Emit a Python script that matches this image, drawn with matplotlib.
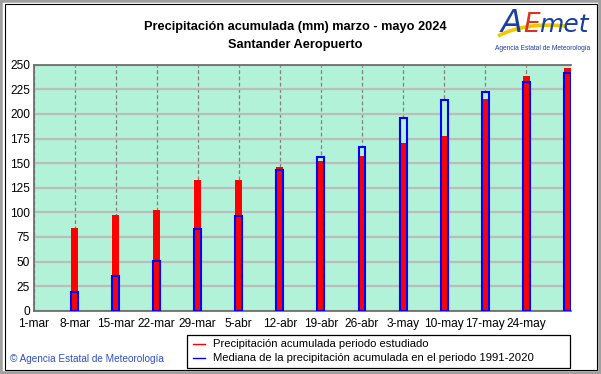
import matplotlib
matplotlib.use("Agg")
import matplotlib.pyplot as plt
from matplotlib.patches import Rectangle, PathPatch
from matplotlib.path import Path
import numpy as np

# semanas (1-mar ... 31-may), la ultima sin etiqueta
etiquetas = ["1-mar", "8-mar", "15-mar", "22-mar", "29-mar", "5-abr", "12-abr",
             "19-abr", "26-abr", "3-may", "10-may", "17-may", "24-may"]
precip_2024 = [0, 84, 97, 102, 133, 133, 146, 152, 157, 170, 178, 215, 239, 247]
mediana = [0, 19, 35, 51, 83, 96, 143, 156, 166, 196, 214, 222, 232, 242]

W, H = 601, 374
fondo = "#b2f2d8"

plt.rcParams['font.family'] = ['Liberation Sans', 'DejaVu Sans']

fig = plt.figure(figsize=(W / 100, H / 100), dpi=100)
fig.patch.set_facecolor("white")

def fx(px):
    return px / W

def fy(py):
    return 1 - py / H

ax = fig.add_axes([fx(33.5), fy(310.7), fx(571) - fx(33.5), fy(64.7) - fy(310.7)])
ax.set_facecolor(fondo)

x = np.arange(len(precip_2024))
ancho = 0.17

# rejilla
ax.set_ylim(0, 250)
ax.set_xlim(0, 13.09)
ax.set_yticks(np.arange(0, 251, 25))
ax.set_xticks(np.arange(len(etiquetas)))
ax.set_xticklabels(etiquetas)
ax.yaxis.grid(True, color="#bcbcbc", linewidth=1.6, linestyle="-", zorder=0)
ax.xaxis.grid(True, color="#808080", linewidth=0.9, linestyle=(0, (3, 2)), zorder=0)
ax.set_axisbelow(True)

# barras
ax.bar(x[1:], mediana[1:], width=ancho, color=fondo, edgecolor="none", zorder=2)
ax.bar(x[1:], precip_2024[1:], width=ancho, color="#ff0000", edgecolor="none", zorder=3)
ax.bar(x[1:], mediana[1:], width=ancho, facecolor="none", edgecolor="#0000ff",
       linewidth=1.5, zorder=4)

ax.tick_params(axis="both", length=0, labelsize=8.6, colors="black")
ax.tick_params(axis="y", pad=2.5)
ax.tick_params(axis="x", pad=5)
for s in ax.spines.values():
    s.set_color("#6e6e6e")
    s.set_linewidth(1.3)
ax.spines["right"].set_visible(False)

# titulo
fig.text(fx(295), fy(27), "Precipitación acumulada (mm) marzo - mayo 2024",
         ha="center", va="center", fontsize=9.2, fontweight="bold")
fig.text(fx(295), fy(45), "Santander Aeropuerto",
         ha="center", va="center", fontsize=9.2, fontweight="bold")

# logo
verde = fig.transFigure
swoosh = Path([(fx(498), fy(36)), (fx(525), fy(22)), (fx(566), fy(26))],
              [Path.MOVETO, Path.CURVE3, Path.CURVE3])
fig.patches.append(PathPatch(swoosh, transform=verde, facecolor="none",
                             edgecolor="#f0c800", linewidth=2.6))
fig.text(fx(501), fy(24), "A", ha="left", va="center", fontsize=23,
         style="italic", color="#1a3fa0", family="DejaVu Sans")
fig.text(fx(523), fy(25), "E", ha="left", va="center", fontsize=19,
         style="italic", color="#e03020", family="DejaVu Sans")
fig.text(fx(539), fy(25), "met", ha="left", va="center", fontsize=18,
         style="italic", color="#1a3fa0", family="DejaVu Sans")
fig.text(fx(543), fy(49), "Agencia Estatal de Meteorología", ha="center",
         va="center", fontsize=4.8, color="#1a3fa0")

# leyenda
leg = Rectangle((fx(187), fy(368)), fx(570) - fx(187), fy(335) - fy(368),
                transform=verde, facecolor="white", edgecolor="black", linewidth=0.9)
fig.patches.append(leg)
fig.lines.append(plt.Line2D([fx(193), fx(205)], [fy(344), fy(344)],
                            transform=verde, color="#ff0000", linewidth=1))
fig.lines.append(plt.Line2D([fx(193), fx(205)], [fy(358), fy(358)],
                            transform=verde, color="#0000ff", linewidth=1))
fig.text(fx(213), fy(344), "Precipitación acumulada periodo estudiado",
         ha="left", va="center", fontsize=8.1)
fig.text(fx(213), fy(358), "Mediana de la precipitación acumulada en el periodo 1991-2020",
         ha="left", va="center", fontsize=8.1)

fig.text(fx(10), fy(359), "© Agencia Estatal de Meteorología", ha="left",
         va="center", fontsize=7.2, color="#3050c0")

# marco
fig.patches.append(Rectangle((0, 0), 1, 1, transform=verde, facecolor="none",
                             edgecolor="#a0a0a0", linewidth=4))
fig.patches.append(Rectangle((fx(4.5), fy(370)), fx(597) - fx(4.5), fy(3.5) - fy(370),
                             transform=verde, facecolor="none",
                             edgecolor="black", linewidth=0.8))

fig.savefig("out.png", dpi=100)
